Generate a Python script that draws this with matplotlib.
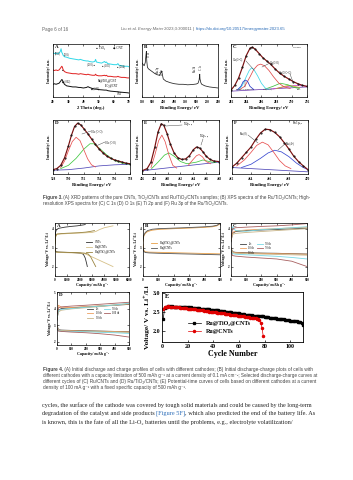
import matplotlib
matplotlib.use("Agg")
import matplotlib.pyplot as plt

W, H = 353, 480
SERIF = ["Liberation Serif", "DejaVu Serif", "DejaVu Sans"]
SANS = ["Liberation Sans", "DejaVu Sans"]
plt.rcParams["font.family"] = SERIF

# ---------------- Figure 3 data ----------------
# (A) XRD
two_theta = [20, 21, 22, 23, 24, 24.8, 25.3, 25.8, 26.2, 26.6, 27.5, 29, 31, 33, 35, 37, 38, 40, 42, 43,
             44, 46, 47.5, 48, 48.6, 50, 52, 53.9, 54.5, 55.1, 56, 58, 60, 62, 62.7, 63.4, 65, 67, 69, 70]
xrd_cyan = [8.3, 8.2, 8.3, 8.1, 8.3, 8.6, 9.1, 8.4, 8.2, 7.9, 7.6, 7.5, 7.3, 7.2, 7.1, 7.0, 7.1, 6.9, 6.8, 6.8,
            6.7, 6.6, 6.7, 7.1, 6.6, 6.5, 6.4, 6.7, 6.5, 6.6, 6.3, 6.2, 6.1, 6.1, 6.3, 6.0, 5.9, 5.8, 5.8, 5.7]
xrd_red = [5.1, 5.0, 5.1, 5.0, 5.1, 5.4, 5.6, 5.8, 5.6, 5.2, 4.8, 4.6, 4.5, 4.4, 4.4, 4.3, 4.4, 4.3, 4.2, 4.3,
           4.2, 4.1, 4.1, 4.3, 4.1, 4.0, 4.0, 4.1, 4.0, 4.1, 3.9, 3.9, 3.8, 3.8, 3.9, 3.8, 3.7, 3.7, 3.6, 3.6]
xrd_cnt = [2.4, 2.5, 2.4, 2.5, 2.6, 2.9, 3.1, 3.3, 3.2, 2.9, 2.4, 2.1, 2.0, 1.9, 1.9, 1.8, 1.8, 1.7, 1.8, 1.95,
           1.8, 1.6, 1.5, 1.5, 1.5, 1.4, 1.35, 1.3, 1.3, 1.3, 1.2, 1.1, 1.05, 1.0, 1.0, 0.95, 0.9, 0.85, 0.8, 0.75]

# (B) survey
survey_be = [550, 540, 535, 532, 530, 528, 525, 520, 510, 500, 490, 480, 470, 465, 462, 459, 456, 452, 440,
             420, 400, 380, 360, 340, 320, 300, 292, 287, 285, 284, 283, 281, 279, 275, 260, 240, 220, 200]
survey_int = [6.4, 5.9, 6.5, 7.8, 8.6, 6.8, 5.6, 5.3, 5.0, 4.7, 4.4, 4.2, 4.1, 4.4, 4.7, 4.9, 4.2, 3.4, 3.0,
              2.7, 2.5, 2.4, 2.4, 2.3, 2.35, 2.45, 2.6, 3.2, 4.0, 4.3, 3.4, 3.1, 2.7, 2.4, 2.1, 1.9, 1.8, 1.7]

# (C) C 1s
c1s_be = [282, 282.5, 283, 283.5, 284, 284.5, 284.8, 285.2, 285.7, 286.2, 286.7, 287.2, 287.8, 288.4, 289,
          289.6, 290.2, 290.8, 291.4, 292]
c1s_env = [1.3, 2.2, 3.6, 5.6, 7.8, 9.2, 9.4, 9.0, 8.2, 7.4, 6.8, 6.2, 5.3, 4.5, 3.9, 3.4, 2.9, 2.5, 2.2, 2.0]
c1s_ru_be = [282.8, 283.3, 283.6, 283.9, 284.2, 284.5, 285]
c1s_ru = [1.3, 2.0, 2.9, 3.2, 2.9, 2.0, 1.4]
c1s_cc_be = [283, 283.5, 284, 284.4, 284.7, 285, 285.5, 286, 286.5, 287]
c1s_cc = [1.3, 2.2, 3.8, 5.0, 5.5, 5.2, 4.0, 2.6, 1.7, 1.4]
c1s_co_be = [283, 283.8, 284.5, 285, 285.5, 285.9, 286.4, 287, 287.6, 288.3, 289, 289.8]
c1s_co = [1.3, 2.0, 3.8, 5.2, 6.0, 6.2, 5.9, 5.0, 3.8, 2.6, 1.9, 1.6]
c1s_c_o_be = [286.5, 287.5, 288.5, 289.5, 290.3, 291]
c1s_c_o = [1.5, 2.0, 2.6, 2.3, 1.8, 1.6]
c1s_oco_be = [288, 289, 289.6, 290.3, 291]
c1s_oco = [1.6, 2.0, 2.2, 2.0, 1.8]
c1s_pi_be = [287.5, 289, 290.5, 291.5, 292]
c1s_pi = [1.5, 1.9, 2.2, 2.1, 2.0]
c1s_bg_be = [282, 292]
c1s_bg = [1.1, 1.9]

# (D) O 1s
o1s_be = [528, 528.5, 529, 529.5, 530, 530.4, 530.8, 531.2, 531.6, 532, 532.5, 533, 533.5, 534, 534.5, 535,
          535.5, 536, 536.5, 537, 537.5, 538]
o1s_env = [0.8, 1.0, 1.6, 3.0, 5.2, 7.2, 8.8, 9.4, 9.1, 8.4, 7.5, 6.5, 5.5, 4.6, 3.9, 3.3, 2.9, 2.6, 2.4,
           2.2, 2.0, 1.9]
o1s_lat_be = [529, 529.5, 530, 530.5, 531, 531.5, 532, 532.5, 533, 533.5]
o1s_lat = [1.2, 2.4, 4.3, 6.0, 6.8, 6.2, 4.5, 2.8, 1.7, 1.3]
o1s_oh_be = [529, 530, 531, 532, 532.8, 533.3, 534, 535, 536, 537, 538]
o1s_oh = [1.0, 1.6, 2.9, 4.6, 5.6, 5.6, 4.8, 3.5, 2.5, 2.0, 1.8]
o1s_bg_be = [528, 530, 532, 534, 536, 538]
o1s_bg = [0.7, 0.8, 1.1, 1.5, 1.7, 1.8]

# (E) Ti 2p
ti_be = [456, 456.8, 457.4, 458, 458.5, 459, 459.4, 459.9, 460.4, 461, 461.6, 462.2, 462.8, 463.4, 464,
         464.5, 465, 465.5, 466, 466.6, 467.2, 468]
ti_env = [0.6, 1.0, 2.2, 5.0, 7.8, 9.3, 9.0, 7.5, 5.6, 3.9, 3.0, 2.7, 2.8, 3.4, 4.5, 5.0, 4.8, 4.1, 3.3,
          2.7, 2.4, 2.3]
ti_32_be = [457.4, 458, 458.6, 459.1, 459.6, 460.2, 460.8, 461.4]
ti_32 = [1.2, 3.5, 6.2, 7.2, 6.0, 3.5, 1.6, 1.1]
ti_12_be = [463.2, 463.9, 464.5, 464.9, 465.4, 466, 466.7]
ti_12 = [1.6, 2.6, 3.4, 3.6, 3.2, 2.3, 1.9]
ti_sat_be = [457.5, 458.5, 459.5, 460.2, 461, 462, 463, 464.5, 465.5, 466.5, 467.5]
ti_sat = [1.0, 2.2, 3.5, 3.9, 3.3, 2.3, 1.9, 2.2, 2.6, 2.3, 2.1]
ti_bg_be = [456, 468]
ti_bg = [0.6, 2.2]

# (F) Ru 3p
ru_be = [462, 462.5, 463, 463.5, 464, 464.5, 465, 465.5, 466, 466.5, 467, 467.5, 468, 468.5, 469, 469.5, 470]
ru_env = [1.3, 2.0, 3.0, 4.0, 5.0, 6.4, 7.6, 8.3, 8.2, 7.7, 6.9, 5.8, 4.6, 3.3, 2.3, 1.5, 0.8]
ru0_be = [462.5, 463.3, 464, 464.6, 465.2, 465.8, 466.4, 467, 467.6, 468.2]
ru0 = [1.5, 2.6, 4.0, 5.3, 5.9, 5.4, 4.0, 2.5, 1.5, 1.0]
ru4_be = [463, 464, 465, 465.8, 466.5, 467.2, 468, 468.8, 469.5, 470]
ru4 = [1.2, 1.8, 2.9, 3.9, 4.4, 4.1, 3.2, 2.0, 1.2, 0.8]
ru_bg_be = [462, 470]
ru_bg = [1.2, 0.4]

# ---------------- Figure 4 data ----------------
# (A) full discharge / charge
a_cnt_dis_q = [0, 30, 100, 300, 800, 1300, 1800, 2100, 2300, 2450, 2550, 2620]
a_cnt_dis_v = [3.0, 2.85, 2.78, 2.76, 2.75, 2.74, 2.72, 2.7, 2.65, 2.45, 2.2, 2.0]
a_cnt_chg_q = [0, 40, 120, 300, 800, 1300, 1800, 2100, 2300, 2450]
a_cnt_chg_v = [3.2, 3.8, 3.95, 4.02, 4.08, 4.12, 4.15, 4.18, 4.2, 4.22]
a_ru_dis_q = [0, 30, 100, 500, 1000, 1500, 2000, 2400, 2700, 3200, 3700, 4200, 4700]
a_ru_dis_v = [2.95, 2.8, 2.75, 2.74, 2.73, 2.72, 2.71, 2.68, 2.6, 2.45, 2.3, 2.15, 2.0]
a_ru_chg_q = [0, 50, 150, 500, 1000, 2000, 3000, 3300, 3600, 4000, 4500, 4700]
a_ru_chg_v = [3.1, 3.55, 3.7, 3.72, 3.74, 3.77, 3.8, 3.85, 3.95, 4.05, 4.12, 4.15]
a_rut_dis_q = [0, 30, 100, 500, 1000, 1500, 2000, 2400, 2700, 2900, 3100, 3300]
a_rut_dis_v = [2.95, 2.82, 2.77, 2.76, 2.75, 2.74, 2.73, 2.71, 2.66, 2.5, 2.25, 2.0]
a_rut_chg_q = [0, 50, 150, 500, 1000, 2000, 2500, 2900, 3200]
a_rut_chg_v = [3.2, 3.6, 3.72, 3.74, 3.76, 3.79, 3.82, 3.86, 3.9]

# (B) limited capacity 500 mAh/g
b_dis_q = [0, 5, 15, 40, 100, 200, 300, 400, 500]
b_rut_dis_v = [3.2, 2.85, 2.78, 2.76, 2.75, 2.73, 2.71, 2.69, 2.67]
b_ru_dis_v = [3.0, 2.8, 2.74, 2.72, 2.7, 2.68, 2.66, 2.64, 2.62]
b_chg_q = [0, 5, 15, 30, 60, 100, 200, 300, 400, 450, 480, 500]
b_rut_chg_v = [3.3, 3.6, 3.75, 3.85, 3.92, 3.96, 4.0, 4.03, 4.07, 4.1, 4.15, 4.25]
b_ru_chg_v = [3.4, 3.65, 3.8, 3.9, 3.97, 4.0, 4.03, 4.06, 4.1, 4.13, 4.18, 4.28]

# (C) Ru/CNTs selected cycles
cyc_q = [0, 10, 30, 100, 200, 300, 400, 500]
c_labels = ["1st", "10 th", "30 th", "50 th", "70 th"]
c_chg = [[3.3, 3.75, 3.85, 3.9, 3.93, 3.96, 3.99, 4.02],
         [3.4, 3.8, 3.88, 3.93, 3.97, 4.0, 4.04, 4.08],
         [3.4, 3.7, 3.75, 3.8, 3.85, 3.9, 3.95, 4.0],
         [3.6, 4.1, 3.9, 3.86, 3.95, 4.0, 4.05, 4.1],
         [3.5, 4.0, 4.05, 4.08, 4.12, 4.15, 4.2, 4.27]]
c_dis = [[3.0, 2.78, 2.75, 2.73, 2.71, 2.7, 2.68, 2.66],
         [2.95, 2.76, 2.73, 2.71, 2.7, 2.68, 2.67, 2.65],
         [2.9, 2.73, 2.7, 2.68, 2.66, 2.64, 2.62, 2.6],
         [2.85, 2.68, 2.65, 2.62, 2.58, 2.54, 2.48, 2.4],
         [2.8, 2.58, 2.55, 2.5, 2.45, 2.4, 2.28, 2.0]]

# (D) Ru/TiO2/CNTs selected cycles
d_labels = ["1st", "10 th", "30 th", "50 th", "100 th"]
d_chg = [[3.3, 3.9, 4.0, 4.05, 4.1, 4.15, 4.2, 4.25],
         [3.6, 4.2, 4.08, 4.06, 4.12, 4.17, 4.22, 4.28],
         [3.4, 3.8, 3.9, 3.98, 4.05, 4.12, 4.2, 4.3],
         [3.5, 3.9, 3.95, 4.0, 4.08, 4.15, 4.22, 4.32],
         [3.6, 4.05, 4.1, 4.15, 4.2, 4.26, 4.32, 4.38]]
d_dis = [[3.0, 2.72, 2.7, 2.68, 2.66, 2.64, 2.62, 2.6],
         [2.95, 2.7, 2.68, 2.66, 2.64, 2.63, 2.61, 2.59],
         [2.9, 2.68, 2.66, 2.64, 2.62, 2.6, 2.58, 2.56],
         [2.85, 2.66, 2.64, 2.62, 2.6, 2.57, 2.54, 2.5],
         [2.8, 2.64, 2.62, 2.58, 2.54, 2.48, 2.4, 2.28]]

# (E) terminal discharge voltage vs cycle
v_rut = [2.31, 2.60, 2.63, 2.64, 2.65, 2.65, 2.64, 2.65, 2.64, 2.64,
         2.64, 2.63, 2.64, 2.63, 2.63, 2.63, 2.62, 2.63, 2.62, 2.62,
         2.62, 2.61, 2.62, 2.61, 2.61, 2.60, 2.61, 2.60, 2.60, 2.59,
         2.59, 2.59, 2.58, 2.58, 2.58, 2.57, 2.57, 2.56, 2.56, 2.56,
         2.55, 2.55, 2.54, 2.54, 2.53, 2.53, 2.52, 2.52, 2.51, 2.51,
         2.50, 2.50, 2.49, 2.49, 2.48, 2.48, 2.47, 2.47, 2.46, 2.46,
         2.45, 2.45, 2.44, 2.44, 2.43, 2.43, 2.42, 2.42, 2.41, 2.41,
         2.40, 2.40, 2.40, 2.39, 2.39, 2.39, 2.38, 2.38, 2.38, 2.37,
         2.37, 2.36, 2.36, 2.35, 2.35, 2.34, 2.34, 2.33, 2.33, 2.32,
         2.32, 2.31, 2.31, 2.30, 2.30, 2.29, 2.29, 2.28, 2.28, 2.27,
         2.27, 2.26, 2.26, 2.25, 2.25, 2.24, 2.24, 2.23, 2.21, 2.16]
v_ru = [2.58, 2.63, 2.64, 2.64, 2.65, 2.64, 2.64, 2.63, 2.63, 2.63,
        2.62, 2.62, 2.62, 2.61, 2.61, 2.61, 2.60, 2.60, 2.60, 2.59,
        2.59, 2.58, 2.58, 2.58, 2.57, 2.57, 2.56, 2.56, 2.55, 2.55,
        2.54, 2.54, 2.53, 2.53, 2.52, 2.52, 2.51, 2.51, 2.50, 2.50,
        2.49, 2.49, 2.48, 2.48, 2.47, 2.47, 2.46, 2.46, 2.45, 2.45,
        2.44, 2.44, 2.43, 2.43, 2.42, 2.42, 2.41, 2.41, 2.40, 2.40,
        2.39, 2.39, 2.38, 2.38, 2.37, 2.37, 2.36, 2.36, 2.35, 2.35,
        2.34, 2.34, 2.33, 2.32, 2.30, 2.28, 2.21, 2.08, 1.85]

# ---------------- page text ----------------
cap3 = [[("Figure 3.", "b"), (" (A) XRD patterns of the pure CNTs, TiO\u2082/CNTs and Ru/TiO\u2082/CNTs samples; "
                              "(B) XPS spectra of the Ru/TiO\u2082/CNTs; High-", "")],
        [("resolution XPS spectra for (C) C 1s (D) O 1s (E) Ti 2p and (F) Ru 3p of the Ru/TiO\u2082/CNTs.", "")]]
cap4 = [[("Figure 4.", "b"), (" (A) Initial discharge and charge profiles of cells with different cathodes; "
                              "(B) Initial discharge-charge plots of cells with", "")],
        [("different cathodes with a capacity limitation of 500 mAh g\u207b\u00b9 at a current density of "
          "0.1 mA cm\u207b\u00b2; Selected discharge-charge curves at", "")],
        [("different cycles of (C) Ru/CNTs and (D) Ru/TiO\u2082/CNTs; (E) Potential-time curves of cells "
          "based on different cathodes at a current", "")],
        [("density of 100 mA g\u207b\u00b9 with a fixed specific capacity of 500 mAh g\u207b\u00b9.", "")]]
body = [[("cycles, the surface of the cathode was covered by tough solid materials and could be caused "
          "by the long-term", "")],
        [("degradation of the catalyst and side products ", ""), ("[Figure 5F]", "link"),
         (", which also predicted the end of the battery life. As", "")],
        [("is known, this is the fate of all the Li-O\u2082 batteries until the problems, e.g., "
          "electrolyte volatilization/", "")]]

fig = plt.figure(figsize=(W / 100, H / 100), dpi=100)
renderer = fig.canvas.get_renderer()


def box(x0, y0, x1, y1):
    return fig.add_axes([x0 / W, 1 - y1 / H, (x1 - x0) / W, (y1 - y0) / H])


def ftxt(x, y, s, size, **kw):
    kw.setdefault("va", "center")
    return fig.text(x / W, 1 - y / H, s, fontsize=size, **kw)


def leader(x0, y0, x1, y1, color="#333"):
    fig.add_artist(plt.Line2D([x0 / W, x1 / W], [1 - y0 / H, 1 - y1 / H], lw=0.3, color=color))


def style(ax, letter, tick_fs, pad=1.5):
    for s in ax.spines.values():
        s.set_linewidth(0.5)
    ax.tick_params(direction="in", length=1.2, width=0.4, labelsize=tick_fs, pad=pad,
                   top=True, right=True)
    for lab in ax.get_xticklabels() + ax.get_yticklabels():
        lab.set_fontweight("bold")
    ax.text(0.025, 0.975, letter, transform=ax.transAxes, va="top", ha="left",
            fontsize=3.6, fontweight="bold")


def text_line(parts, x0, y, fs, family, color):
    x = x0
    for s, kind in parts:
        t = ftxt(x, y, s, fs, family=family, ha="left",
                 color="#2a6cb8" if kind == "link" else color,
                 fontweight="bold" if kind == "b" else "normal")
        x += t.get_window_extent(renderer).width


def fit_fs(parts, width, family):
    total = 0
    for s, kind in parts:
        t = fig.text(0, 0, s, fontsize=4, family=family,
                     fontweight="bold" if kind == "b" else "normal")
        total += t.get_window_extent(renderer).width
        t.remove()
    return 4 * width / total


def paragraph(lines, x0, x1, ys, family, color):
    fs = None
    for i, (parts, y) in enumerate(zip(lines, ys)):
        if i < len(lines) - 1 or fs is None:
            fs = fit_fs(parts, x1 - x0, family)
        text_line(parts, x0, y, fs, family, color)


# ---------------- header ----------------
ftxt(42, 29, "Page 6 of 16", 3.3, family=SANS, color="#666", ha="left")
hdr = [("Liu et al. ", ""), ("Energy Mater", "i"), (" 2023;3:300011 | ", ""),
       ("https://dx.doi.org/10.20517/energymater.2023.65", "link")]
x = 121
hfs = 3.05
for s, kind in hdr:
    t = ftxt(x, 29, s, hfs, family=SANS, ha="left",
             color="#2a6cb8" if kind == "link" else "#666",
             fontstyle="italic" if kind == "i" else "normal")
    x += t.get_window_extent(renderer).width

# ---------------- Figure 3 ----------------
XPS_LW = 0.55
ENV_LW = 0.85
axA = box(53, 44, 129, 97)
axA.plot(two_theta, xrd_cyan, color="#30d8e8", lw=0.7)
axA.plot(two_theta, xrd_red, color="#e02020", lw=0.7)
axA.plot(two_theta, xrd_cnt, color="#111111", lw=0.7)
axA.set_xlim(20, 70)
axA.set_ylim(0, 10)
axA.set_xticks([20, 30, 40, 50, 60, 70])
axA.set_yticks([])
axA.set_xlabel("2 Theta (deg.)", fontsize=3.3, fontweight="bold", labelpad=1.2)
axA.set_ylabel("Intensity/ a.u.", fontsize=3.0, fontweight="bold", labelpad=1.5)
style(axA, "A", 2.5, pad=2.2)
ftxt(96, 48, "\u25cf TiO\u2082", 2.3, ha="left")
ftxt(113, 48, "\u25c6 CNT", 2.3, ha="left")
ftxt(55, 53, "(002)", 1.8, ha="left")
ftxt(64, 54, "(101)", 1.8, ha="left")
ftxt(87, 64, "(200) \u25cf", 1.8, ha="left")
ftxt(102, 65, "\u25cf (105)", 1.8, ha="left")
ftxt(117, 66, "\u25cf (204)", 1.8, ha="left")
ftxt(62, 70, "\u25cf", 1.8, ha="left")
ftxt(62, 81, "\u25c6 (002)", 1.8, ha="left")
ftxt(91, 88, "\u25c6 (100)", 1.8, ha="left")
ftxt(98, 81, "Ru@TiO\u2082@CNT", 2.0, ha="left")
ftxt(105, 86, "TiO\u2082@CNT", 2.0, ha="left")
ftxt(117, 94, "CNT", 2.0, ha="left")

axB = box(142, 44, 218, 97)
axB.plot(survey_be, survey_int, color="#222", lw=0.55)
axB.set_xlim(550, 200)
axB.set_ylim(0, 10)
axB.set_xticks([550, 500, 450, 400, 350, 300, 250, 200])
axB.set_yticks([])
axB.set_xlabel("Binding Energy/ eV", fontsize=3.3, fontweight="bold", labelpad=1.2)
axB.set_ylabel("Intensity/ a.u.", fontsize=3.0, fontweight="bold", labelpad=1.5)
style(axB, "B", 2.3, pad=2.2)
for lx, ly, s in [(149, 55, "O 1s"), (158, 70, "Ru 3p"), (162, 72, "Ti 2p"), (195, 69, "Ru 3d"),
                  (201, 68, "C 1s")]:
    ftxt(lx, ly, s, 1.9, rotation=90, ha="center")

axC = box(231, 44, 307, 97)
axC.plot(c1s_bg_be, c1s_bg, color="#7040b0", lw=XPS_LW)
axC.plot(c1s_pi_be, c1s_pi, color="#d040c0", lw=XPS_LW)
axC.plot(c1s_oco_be, c1s_oco, color="#b8b020", lw=XPS_LW)
axC.plot(c1s_c_o_be, c1s_c_o, color="#40c040", lw=XPS_LW)
axC.plot(c1s_co_be, c1s_co, color="#e04848", lw=XPS_LW)
axC.plot(c1s_cc_be, c1s_cc, color="#40d8e8", lw=XPS_LW)
axC.plot(c1s_ru_be, c1s_ru, color="#2838c8", lw=XPS_LW)
axC.plot(c1s_be, c1s_env, color="#7a1010", lw=ENV_LW)
axC.plot(c1s_be, c1s_env, "o", color="#111", ms=0.5)
axC.set_xlim(282, 292)
axC.set_ylim(0, 10)
axC.set_xticks([282, 284, 286, 288, 290, 292])
axC.set_yticks([])
axC.set_xlabel("Binding Energy/ eV", fontsize=3.3, fontweight="bold", labelpad=1.2)
axC.set_ylabel("Intensity/ a.u.", fontsize=3.0, fontweight="bold", labelpad=1.5)
style(axC, "C", 2.5, pad=2.2)
ftxt(293, 48, "C1s-XPS", 1.7, ha="left")
ftxt(233, 59, "C1s(C=C)", 1.8, ha="left")
leader(246, 61, 254, 70)
ftxt(270, 62, "C1s(C-O)", 1.8, ha="left")
leader(270, 63, 262, 67)
ftxt(279, 72, "C1s(O-C=O)", 1.8, ha="left")
leader(290, 74, 293, 82)
ftxt(236, 89, "Ru3d5/2 Ru3d3/2", 1.7, ha="left")
leader(245, 87, 245, 81)
ftxt(263, 89, "C1s(C=O)", 1.7, ha="left")
ftxt(297, 89, "\u03c0-\u03c0*", 1.7, ha="left")

axD = box(53, 120, 130, 174)
axD.plot(o1s_bg_be, o1s_bg, color="#5048b8", lw=XPS_LW)
axD.plot(o1s_oh_be, o1s_oh, color="#40c840", lw=XPS_LW)
axD.plot(o1s_lat_be, o1s_lat, color="#e85050", lw=XPS_LW)
axD.plot(o1s_be, o1s_env, color="#7a1010", lw=ENV_LW)
axD.plot(o1s_be, o1s_env, "o", color="#111", ms=0.5)
axD.set_xlim(528, 538)
axD.set_ylim(0, 10)
axD.set_xticks([528, 530, 532, 534, 536, 538])
axD.set_yticks([])
axD.set_xlabel("Binding Energy/ eV", fontsize=3.3, fontweight="bold", labelpad=1.2)
axD.set_ylabel("Intensity/ a.u.", fontsize=3.0, fontweight="bold", labelpad=1.5)
style(axD, "D", 2.5, pad=2.2)
ftxt(91, 131, "O1s (C=O)", 1.8, ha="left")
leader(91, 131, 82, 134)
ftxt(105, 142, "O1s (C-O)", 1.8, ha="left")
leader(105, 142, 96, 146)

axE = box(142, 120, 219, 174)
axE.plot(ti_bg_be, ti_bg, color="#5048b8", lw=XPS_LW)
axE.plot(ti_sat_be, ti_sat, color="#40c840", lw=XPS_LW)
axE.plot(ti_32_be, ti_32, color="#e85050", lw=XPS_LW)
axE.plot(ti_12_be, ti_12, color="#e85050", lw=XPS_LW)
axE.plot(ti_be, ti_env, color="#7a1010", lw=ENV_LW)
axE.plot(ti_be, ti_env, "o", color="#111", ms=0.5)
axE.set_xlim(456, 468)
axE.set_ylim(0, 10)
axE.set_xticks([456, 458, 460, 462, 464, 466, 468])
axE.set_yticks([])
axE.set_xlabel("Binding Energy/ eV", fontsize=3.3, fontweight="bold", labelpad=1.2)
axE.set_ylabel("Intensity/ a.u.", fontsize=3.0, fontweight="bold", labelpad=1.5)
style(axE, "E", 2.3, pad=2.2)
ftxt(183, 125, "Ti2p $_{3/2}$", 2.0, ha="left")
leader(182, 125, 166, 126)
ftxt(199, 137, "Ti2p $_{1/2}$", 2.0, ha="left")
leader(203, 139, 201, 145)

axF = box(232, 120, 308, 174)
axF.plot(ru_bg_be, ru_bg, color="#5048b8", lw=XPS_LW)
axF.plot(ru4_be, ru4, color="#3848d0", lw=XPS_LW)
axF.plot(ru0_be, ru0, color="#e85050", lw=XPS_LW)
axF.plot(ru_be, ru_env, color="#7a1010", lw=ENV_LW)
axF.plot(ru_be, ru_env, "o", color="#111", ms=0.5)
axF.set_xlim(462, 470)
axF.set_ylim(0, 10)
axF.set_xticks([462, 464, 466, 468, 470])
axF.set_yticks([])
axF.set_xlabel("Binding Energy/ eV", fontsize=3.3, fontweight="bold", labelpad=1.2)
axF.set_ylabel("Intensity/ a.u.", fontsize=3.0, fontweight="bold", labelpad=1.5)
style(axF, "F", 2.5, pad=2.2)
ftxt(292, 124, "Ru 3p$_{3/2}$", 2.0, ha="left")
ftxt(240, 133, "Ru (0)", 1.9, ha="left")
leader(248, 135, 258, 143)
ftxt(286, 143, "Ru (4+)", 1.9, ha="left")
leader(286, 143, 278, 150)

paragraph(cap3, 43, 309, [198, 204], SANS, "#444")

# ---------------- Figure 4 ----------------
VLAB = "Voltage/ V vs. Li\u207a/Li"
QLAB = "Capacity/ mAh g\u207b\u00b9"


def volt_axes(ax, letter, xlim, xticks, ylim, yticks):
    ax.set_xlim(*xlim)
    ax.set_ylim(*ylim)
    ax.set_xticks(xticks)
    ax.set_yticks(yticks)
    ax.set_xlabel(QLAB, fontsize=2.9, fontweight="bold", labelpad=0.8)
    ax.set_ylabel(VLAB, fontsize=2.8, fontweight="bold", labelpad=1.2)
    style(ax, letter, 2.3, pad=1.2)


ax4a = box(55, 223, 129, 276)
ax4a.plot(a_cnt_chg_q, a_cnt_chg_v, color="#333", lw=0.6, label="CNTs")
ax4a.plot(a_ru_chg_q, a_ru_chg_v, color="#d6c088", lw=0.6, label="Ru@CNTs")
ax4a.plot(a_rut_chg_q, a_rut_chg_v, color="#9a8440", lw=0.6, label="Ru@TiO\u2082@CNTs")
ax4a.plot(a_cnt_dis_q, a_cnt_dis_v, color="#333", lw=0.6)
ax4a.plot(a_ru_dis_q, a_ru_dis_v, color="#d6c088", lw=0.6)
ax4a.plot(a_rut_dis_q, a_rut_dis_v, color="#9a8440", lw=0.6)
volt_axes(ax4a, "A", (0, 6000), [0, 1000, 2000, 3000, 4000, 5000, 6000], (1.5, 4.3), [2, 3, 4])
ax4a.legend(loc="center left", bbox_to_anchor=(0.4, 0.55), frameon=False, fontsize=2.1,
            handlelength=2.2, labelspacing=0.25, borderpad=0)

ax4b = box(143, 223, 220, 276)
ax4b.plot(b_chg_q, b_rut_chg_v, color="#e8a048", lw=0.6, label="Ru@TiO\u2082@CNTs")
ax4b.plot(b_chg_q, b_ru_chg_v, color="#555", lw=0.6, label="Ru@CNTs")
ax4b.plot(b_dis_q, b_rut_dis_v, color="#e8a048", lw=0.6)
ax4b.plot(b_dis_q, b_ru_dis_v, color="#555", lw=0.6)
volt_axes(ax4b, "B", (0, 500), [0, 100, 200, 300, 400, 500], (1.5, 4.3), [2, 3, 4])
ax4b.legend(loc="center left", bbox_to_anchor=(0.08, 0.58), frameon=False, fontsize=2.1,
            handlelength=2.2, labelspacing=0.25, borderpad=0)

cyc_colors = ["#404040", "#eda060", "#c8b488", "#78d8e4", "#a86060"]
ax4c = box(231, 223, 307, 276)
for lab, col, ch, di in zip(c_labels, cyc_colors, c_chg, c_dis):
    ax4c.plot(cyc_q, ch, color=col, lw=0.6, label=lab)
    ax4c.plot(cyc_q, di, color=col, lw=0.6)
volt_axes(ax4c, "C", (0, 500), [0, 100, 200, 300, 400, 500], (1.5, 4.3), [2, 3, 4])
ax4c.legend(loc="center left", bbox_to_anchor=(0.1, 0.52), frameon=False, fontsize=2.0, ncol=2,
            handlelength=2.2, labelspacing=0.2, columnspacing=1.0, borderpad=0)

ax4d = box(57, 292, 129, 345)
for lab, col, ch, di in zip(d_labels, cyc_colors, d_chg, d_dis):
    ax4d.plot(cyc_q, ch, color=col, lw=0.6, label=lab)
    ax4d.plot(cyc_q, di, color=col, lw=0.6)
volt_axes(ax4d, "D", (0, 500), [0, 100, 200, 300, 400, 500], (1.8, 4.95), [2, 3, 4, 5])
ax4d.legend(loc="center left", bbox_to_anchor=(0.4, 0.6), frameon=False, fontsize=2.0, ncol=2,
            handlelength=2.2, labelspacing=0.2, columnspacing=1.0, borderpad=0)

ax4e = box(162, 292, 303, 342)
ax4e.plot(range(1, len(v_rut) + 1), v_rut, "-s", color="black", lw=0.5, ms=1.4,
          label="Ru@TiO\u2082@CNTs")
ax4e.plot(range(1, len(v_ru) + 1), v_ru, "-o", color="#e00000", lw=0.5, ms=1.5, label="Ru@CNTs")
ax4e.set_xlim(0, 110)
ax4e.set_ylim(1.7, 3.03)
ax4e.set_xticks([0, 20, 40, 60, 80, 100])
ax4e.set_yticks([2.0, 2.5, 3.0], ["2.0", "2.5", "3.0"])
for s in ax4e.spines.values():
    s.set_linewidth(0.6)
ax4e.tick_params(direction="in", length=1.8, width=0.5, labelsize=4.3, pad=1.5)
for lab in ax4e.get_xticklabels() + ax4e.get_yticklabels():
    lab.set_fontweight("bold")
ax4e.set_xlabel("Cycle Number", fontsize=5.8, fontweight="bold", labelpad=1)
ax4e.set_ylabel(VLAB, fontsize=5.2, fontweight="bold", labelpad=1.5)
ax4e.text(0.02, 0.97, "E", transform=ax4e.transAxes, va="top", fontsize=4.8, fontweight="bold")
ax4e.legend(loc="center left", bbox_to_anchor=(0.16, 0.29), frameon=False,
            prop={"size": 4.3, "weight": "bold"}, handlelength=2.2, labelspacing=0.5, borderpad=0)

paragraph(cap4, 43, 310, [369, 375, 381, 387], SANS, "#444")

# ---------------- body text ----------------
paragraph(body, 42, 312, [405, 413.5, 422], SERIF, "#222")

fig.savefig("out.png", dpi=100)
